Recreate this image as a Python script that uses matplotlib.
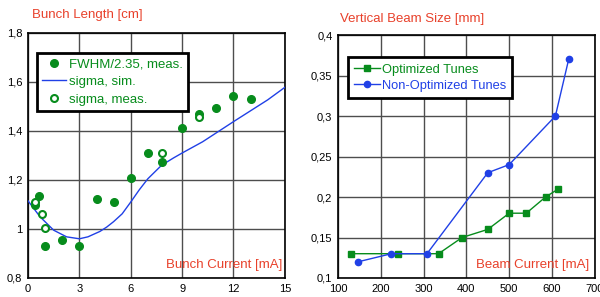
import numpy as np
import matplotlib.pyplot as plt
from matplotlib.ticker import FuncFormatter

plt.rcParams['font.family'] = ['Liberation Sans', 'DejaVu Sans']

red = '#e8402a'
green = '#078c1c'
blue = '#2040e6'

# left: bunch length
fwhm_x = [0.4, 0.65, 1.0, 2, 3, 4, 5, 6, 7, 7.8, 9, 10, 11, 12, 13]
fwhm_y = [1.098, 1.136, 0.93, 0.955, 0.93, 1.121, 1.109, 1.209, 1.311, 1.275, 1.414, 1.468, 1.495, 1.543, 1.529]
sig_x = [0.4, 0.8, 1.0, 7.8, 10]
sig_y = [1.111, 1.06, 1.005, 1.311, 1.456]
sim_x = [0, 0.7, 1.5, 2.25, 3, 3.5, 4.2, 4.6, 5, 5.5, 6, 6.5, 7, 7.8, 8.5, 9, 10.2, 12, 14, 15]
sim_y = [1.115, 1.05, 0.995, 0.968, 0.96, 0.968, 0.99, 1.008, 1.03, 1.062, 1.11, 1.16, 1.205, 1.26, 1.29, 1.31, 1.356, 1.438, 1.527, 1.578]

# right: vertical beam size
opt_x = [130, 240, 335, 390, 450, 500, 540, 585, 615]
opt_y = [0.13, 0.13, 0.13, 0.15, 0.16, 0.18, 0.18, 0.20, 0.21]
non_x = [147, 225, 308, 450, 500, 608, 639]
non_y = [0.12, 0.13, 0.13, 0.23, 0.24, 0.30, 0.37]

def comma(v, pos):
    s = ('%.2f' % v).rstrip('0').rstrip('.')
    return s.replace('.', ',')

fig = plt.figure(figsize=(6, 2.97), dpi=100)
ax1 = fig.add_axes([0.0467, 0.064, 0.428, 0.825])
ax2 = fig.add_axes([0.5633, 0.064, 0.428, 0.818])

ax1.plot(fwhm_x, fwhm_y, 'o', color=green, ms=5.5, label='FWHM/2.35, meas.', zorder=4)
ax1.plot(sim_x, sim_y, '-', color=blue, lw=1, label='sigma, sim.', zorder=3)
ax1.plot(sig_x, sig_y, 'o', color=green, mfc='white', mew=1.5, ms=5, label='sigma, meas.', zorder=5)
ax1.set_xlim(0, 15)
ax1.set_ylim(0.8, 1.8)
ax1.set_xticks(np.arange(0, 16, 3))
ax1.set_yticks(np.arange(0.8, 1.81, 0.2))
ax1.text(0.015, 1.05, 'Bunch Length [cm]', transform=ax1.transAxes, color=red, fontsize=9.5, va='bottom', ha='left')
ax1.text(0.99, 0.03, 'Bunch Current [mA]', transform=ax1.transAxes, color=red, fontsize=9.5, va='bottom', ha='right')
leg1 = ax1.legend(loc='upper left', bbox_to_anchor=(0.035, 0.918), fontsize=9.5, handlelength=1.8,
                  handletextpad=0.2, borderpad=0.4, labelspacing=0.4, fancybox=False,
                  framealpha=1, edgecolor='black', borderaxespad=0)
leg1.get_frame().set_linewidth(2)
for t in leg1.get_texts():
    t.set_color(green)

ax2.plot(opt_x, opt_y, '-s', color=green, ms=5, lw=1, label='Optimized Tunes', zorder=3)
ax2.plot(non_x, non_y, '-o', color=blue, ms=4.5, lw=1, label='Non-Optimized Tunes', zorder=4)
ax2.set_xlim(100, 700)
ax2.set_ylim(0.1, 0.4)
ax2.set_xticks(np.arange(100, 701, 100))
ax2.set_yticks(np.arange(0.1, 0.401, 0.05))
ax2.text(0.008, 1.04, 'Vertical Beam Size [mm]', transform=ax2.transAxes, color=red, fontsize=9.5, va='bottom', ha='left')
ax2.text(0.98, 0.03, 'Beam Current [mA]', transform=ax2.transAxes, color=red, fontsize=9.5, va='bottom', ha='right')
leg2 = ax2.legend(loc='upper left', bbox_to_anchor=(0.039, 0.909), fontsize=9.3, handlelength=2.0,
                  handletextpad=0.1, borderpad=0.5, labelspacing=0.3, fancybox=False,
                  framealpha=1, edgecolor='black', borderaxespad=0)
leg2.get_frame().set_linewidth(2)
leg2.get_texts()[0].set_color(green)
leg2.get_texts()[1].set_color(blue)

for ax in (ax1, ax2):
    ax.grid(True, color='0.3', lw=1)
    ax.set_axisbelow(True)
    ax.xaxis.set_major_formatter(FuncFormatter(comma))
    ax.yaxis.set_major_formatter(FuncFormatter(comma))
    ax.tick_params(length=0, labelsize=8, pad=4)
    for sp in ax.spines.values():
        sp.set_linewidth(1.2)

fig.savefig('out.png', dpi=100)
